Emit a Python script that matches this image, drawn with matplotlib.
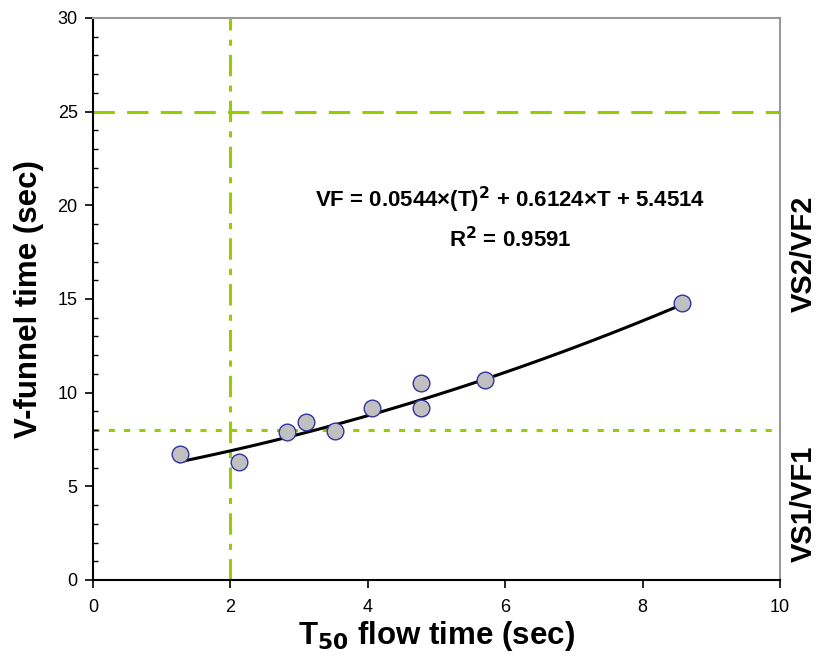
import numpy as np
import matplotlib
matplotlib.use("Agg")
import matplotlib.pyplot as plt
from matplotlib.ticker import MultipleLocator

plt.rcParams['font.family'] = ['Liberation Sans', 'DejaVu Sans']

# Data
t50 = [1.27, 2.13, 2.83, 3.10, 3.52, 4.06, 4.77, 4.77, 5.70, 8.57]
vfunnel = [6.75, 6.30, 7.90, 8.45, 7.95, 9.20, 10.50, 9.20, 10.65, 14.80]
coef = [0.0544, 0.6124, 5.4514]
r2 = 0.9591
t50_limit = 2.0
vf_limit1 = 8.0
vf_limit2 = 25.0

fig = plt.figure(figsize=(8.2, 6.63), dpi=100)
ax = fig.add_axes([0.1134, 0.1252, 0.8378, 0.8477])

green = '#99cc00'
ax.axvline(t50_limit, color=green, lw=2.2, linestyle=(0, (7, 3, 2, 3)), zorder=1)
ax.axhline(vf_limit2, color=green, lw=2.2, linestyle=(0, (7, 4)), zorder=1)
ax.axhline(vf_limit1, color=green, lw=2.2, linestyle=(0, (2, 3)), zorder=1)

tt = np.linspace(min(t50), max(t50), 200)
ax.plot(tt, np.polyval(coef, tt), color='black', lw=2.2, zorder=2)
ax.plot(t50, vfunnel, 'o', ms=12, mfc='#c0c0c0', mec='#3333a0', mew=1.0, zorder=3)

ax.set_xlim(0, 10)
ax.set_ylim(0, 30)
ax.xaxis.set_major_locator(MultipleLocator(2))
ax.yaxis.set_major_locator(MultipleLocator(5))
ax.yaxis.set_minor_locator(MultipleLocator(1))
ax.tick_params(axis='both', which='major', direction='out', length=6, width=1.2, labelsize=13, colors='black')
ax.tick_params(axis='x', which='major', pad=8)
ax.tick_params(axis='y', which='major', pad=5)
ax.tick_params(axis='y', which='minor', direction='in', length=3.5, width=1.0)
for s in ['left', 'bottom']:
    ax.spines[s].set_color('black')
    ax.spines[s].set_linewidth(1.5)
for s in ['top', 'right']:
    ax.spines[s].set_color('#999999')
    ax.spines[s].set_linewidth(1.5)

ax.set_xlabel(r'T$_{\mathbf{50}}$ flow time (sec)', fontsize=22.5, fontweight='bold', labelpad=2)
ax.set_ylabel('V-funnel time (sec)', fontsize=22.5, fontweight='bold', labelpad=10)

ax.text(6.07, 20.3, r'VF = 0.0544×(T)$^{\mathbf{2}}$ + 0.6124×T + 5.4514', ha='center', va='center',
        fontsize=16, fontweight='bold')
ax.text(6.07, 18.15, r'R$^{\mathbf{2}}$ = %.4f' % r2, ha='center', va='center', fontsize=16, fontweight='bold')

fig.text(0.980, 0.617, 'VS2/VF2', rotation=90, ha='center', va='center', fontsize=21, fontweight='bold')
fig.text(0.980, 0.24, 'VS1/VF1', rotation=90, ha='center', va='center', fontsize=21, fontweight='bold')

fig.savefig('out.png', dpi=100)
